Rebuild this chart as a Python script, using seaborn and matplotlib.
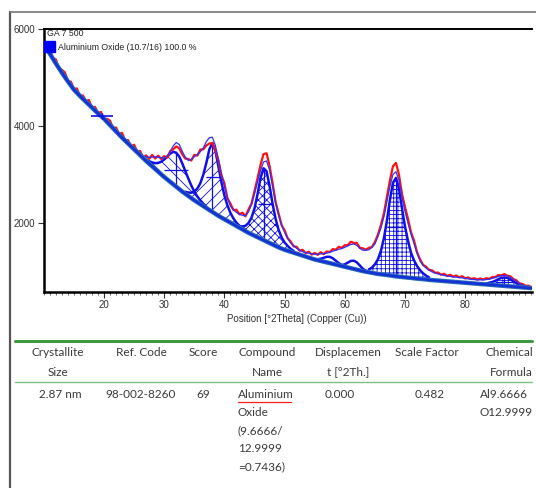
import numpy as np
import matplotlib
matplotlib.use("Agg")
import matplotlib.pyplot as plt
import seaborn as sns
from matplotlib.lines import Line2D
from matplotlib.patches import Rectangle
from matplotlib.ticker import MultipleLocator

# 2Theta grid of the scan (0.5 deg steps, 10 .. 91)
two_theta = np.linspace(10.0, 91.0, 163)

background = np.array([
    5700, 5590, 5490, 5390, 5290, 5195, 5100, 5010, 4920, 4835,
    4750, 4685, 4620, 4560, 4500, 4440, 4380, 4320, 4260, 4205,
    4150, 4085, 4020, 3955, 3890, 3825, 3760, 3700, 3640, 3580,
    3520, 3460, 3400, 3340, 3280, 3225, 3170, 3115, 3060, 3005,
    2950, 2900, 2850, 2800, 2750, 2700, 2650, 2605, 2560, 2515,
    2470, 2430, 2390, 2350, 2310, 2270, 2230, 2190, 2150, 2115,
    2080, 2045, 2010, 1975, 1940, 1905, 1870, 1835, 1800, 1770,
    1740, 1710, 1680, 1650, 1620, 1590, 1560, 1530, 1500, 1475,
    1450, 1430, 1410, 1390, 1370, 1350, 1330, 1310, 1290, 1270,
    1250, 1235, 1220, 1205, 1190, 1175, 1160, 1145, 1130, 1115,
    1100, 1085, 1070, 1055, 1040, 1025, 1010, 998, 985, 972,
    960, 952, 945, 938, 930, 920, 910, 902, 895, 888,
    880, 875, 870, 862, 855, 850, 845, 838, 830, 825,
    820, 815, 810, 805, 800, 795, 790, 785, 780, 775,
    770, 765, 760, 755, 750, 745, 740, 735, 730, 725,
    720, 715, 710, 705, 700, 695, 690, 685, 680, 675,
    670, 665, 660])

observed = np.array([
    5770, 5590, 5590, 5400, 5375, 5185, 5160, 5105, 4925, 4915,
    4765, 4775, 4620, 4630, 4520, 4535, 4375, 4395, 4270, 4290,
    4140, 4150, 4110, 3955, 3970, 3835, 3860, 3705, 3710, 3575,
    3615, 3480, 3485, 3350, 3395, 3325, 3405, 3330, 3390, 3320,
    3380, 3350, 3485, 3520, 3580, 3540, 3420, 3330, 3320, 3290,
    3405, 3390, 3515, 3520, 3600, 3640, 3650, 3500, 3290, 2990,
    2820, 2510, 2400, 2270, 2275, 2180, 2215, 2140, 2280, 2400,
    2660, 2920, 3200, 3420, 3440, 3180, 2830, 2440, 2200, 1960,
    1850, 1690, 1620, 1520, 1510, 1430, 1450, 1380, 1410, 1350,
    1385, 1345, 1400, 1360, 1415, 1400, 1465, 1450, 1510, 1490,
    1545, 1545, 1615, 1590, 1590, 1490, 1480, 1450, 1490, 1505,
    1610, 1760, 1960, 2200, 2540, 2880, 3170, 3240, 3000, 2600,
    2330, 2090, 1810, 1640, 1400, 1255, 1140, 1100, 1035, 1025,
    975, 980, 935, 955, 910, 935, 895, 920, 880, 905,
    860, 880, 845, 865, 835, 860, 835, 865, 850, 890,
    885, 930, 920, 950, 915, 905, 845, 820, 760, 745,
    710, 710, 680])

calculated = np.array([
    5740, 5630, 5530, 5430, 5330, 5235, 5140, 5050, 4960, 4875,
    4790, 4725, 4660, 4600, 4540, 4480, 4420, 4360, 4300, 4245,
    4190, 4125, 4060, 3995, 3930, 3865, 3800, 3740, 3680, 3620,
    3565, 3505, 3445, 3390, 3360, 3355, 3360, 3365, 3360, 3345,
    3340, 3380, 3470, 3590, 3660, 3620, 3480, 3360, 3290, 3310,
    3370, 3410, 3470, 3550, 3680, 3760, 3770, 3600, 3320, 3020,
    2760, 2530, 2350, 2270, 2220, 2180, 2160, 2150, 2230, 2380,
    2600, 2850, 3080, 3260, 3280, 3100, 2760, 2420, 2160, 1960,
    1810, 1690, 1590, 1530, 1480, 1440, 1410, 1390, 1380, 1365,
    1355, 1360, 1365, 1370, 1380, 1400, 1420, 1440, 1460, 1475,
    1500, 1530, 1560, 1570, 1540, 1480, 1440, 1440, 1450, 1500,
    1570, 1720, 1900, 2130, 2450, 2760, 3000, 3060, 2880, 2520,
    2250, 2000, 1770, 1580, 1380, 1220, 1130, 1075, 1030, 995,
    970, 950, 935, 920, 910, 900, 890, 885, 880, 870,
    860, 850, 840, 835, 830, 830, 830, 835, 845, 860,
    880, 900, 915, 920, 910, 880, 840, 795, 755, 725,
    705, 690, 675])

# fitted peak components: first 2Theta and heights above background
comp_a_start = 27.0
comp_a = [30, 50, 80, 120, 180, 260, 360, 470, 580, 670, 700, 670, 580, 470,
          360, 260, 180, 120, 80, 50, 30]
comp_b_start = 33.5
comp_b = [40, 70, 110, 180, 280, 430, 650, 930, 1250, 1420, 1300, 1020, 730,
          490, 320, 200, 120, 70, 40]
comp_c_start = 42.5
comp_c = [30, 60, 110, 200, 340, 560, 880, 1250, 1480, 1450, 1180, 840, 560,
          360, 230, 150, 100, 60, 35]
comp_f_start = 55.5
comp_f = [20, 45, 80, 115, 130, 115, 80, 45, 20]
comp_g_start = 59.5
comp_g = [20, 50, 100, 150, 170, 150, 100, 50, 20]
comp_d_start = 64.0
comp_d = [60, 110, 190, 300, 480, 750, 1120, 1560, 1920, 2030, 1820, 1420,
          1050, 760, 520, 370, 260, 180, 120, 80, 50]
comp_e_start = 83.5
comp_e = [20, 40, 60, 90, 130, 160, 175, 170, 145, 110, 75, 45, 25, 15]

marker_pos = [19.7]
marker_int = [4200]

legend_title = 'GA 7 500'
legend_phase = 'Aluminium Oxide (10.7/16) 100.0 %'
x_label = 'Position [°2Theta] (Copper (Cu))'

header_top = ['Crystallite', 'Ref. Code', 'Score', 'Compound', 'Displacemen', 'Scale Factor', 'Chemical']
header_bottom = ['Size', '', '', 'Name', 't [°2Th.]', '', 'Formula']
row_values = ['2.87 nm', '98-002-8260', '69',
              'Aluminium\nOxide\n(9.6666/\n12.9999\n=0.7436)',
              '0.000', '0.482', 'Al9.6666\nO12.9999']

sns.set_style('white')
plt.rcParams['font.family'] = ['Liberation Sans Narrow', 'Liberation Sans', 'DejaVu Sans']
plt.rcParams['hatch.linewidth'] = 0.6
plt.rcParams['hatch.color'] = '#1a1aee'

W, H = 536, 488
fig = plt.figure(figsize=(W / 100, H / 100), dpi=100)
ax = fig.add_axes([43.5 / W, 1 - 291.5 / H, 488.5 / W, 262.5 / H])

blue = '#1010e6'
components = [(comp_a_start, comp_a, '\\\\\\'), (comp_b_start, comp_b, '///'),
              (comp_c_start, comp_c, 'xxxx'), (comp_f_start, comp_f, None),
              (comp_g_start, comp_g, None), (comp_d_start, comp_d, '++++'),
              (comp_e_start, comp_e, '+++')]

for start, heights, hatch in components:
    i0 = int(np.searchsorted(two_theta, start - 1e-6))
    xs = two_theta[i0:i0 + len(heights)]
    base = background[i0:i0 + len(heights)]
    top = base + np.array(heights)
    if hatch:
        ax.fill_between(xs, base, top, facecolor='none', edgecolor=blue,
                        hatch=hatch, linewidth=0)
        k = int(np.argmax(top - base))
        ax.vlines(xs[k], base[k], top[k], color=blue, lw=0.9)
        half = (top - base) >= (top[k] - base[k]) / 2
        ax.hlines((base[k] + top[k]) / 2, xs[half].min(), xs[half].max(), color=blue, lw=0.9)
    sns.lineplot(x=xs, y=top, ax=ax, color=blue, lw=1.8, sort=False, estimator=None)

sns.lineplot(x=two_theta, y=observed, ax=ax, color='#ff1010', lw=1.6, sort=False, estimator=None)
sns.lineplot(x=two_theta, y=calculated, ax=ax, color='#3030ff', lw=0.9, sort=False, estimator=None)
sns.lineplot(x=two_theta, y=background, ax=ax, color='#2a70b0', lw=3.2, sort=False, estimator=None)
sns.lineplot(x=two_theta, y=background, ax=ax, color='#1530d8', lw=1.8, sort=False, estimator=None)

ax.plot(marker_pos, marker_int, marker='_', ms=16, mew=1.2, color=blue, ls='none')
ax.plot(marker_pos, marker_int, marker='|', ms=5, mew=1.0, color=blue, ls='none')

ax.set_xlim(9.95, 91.1)
ax.set_ylim(590, 6000)
ax.set_xticks([20, 30, 40, 50, 60, 70, 80])
ax.set_yticks([2000, 4000, 6000])
ax.xaxis.set_minor_locator(MultipleLocator(1))
ax.tick_params(axis='both', which='major', direction='out', length=4, width=0.8,
               labelsize=7, labelcolor='#333333', color='#333333', pad=2)
ax.tick_params(axis='x', which='minor', direction='out', length=2, width=0.6,
               color='#555555', bottom=True)
ax.tick_params(axis='x', which='both', bottom=True)
ax.tick_params(axis='y', which='both', left=True)
ax.set_xlabel(x_label, fontsize=7, color='#333333')
ax.xaxis.set_label_coords((297 - 43.5) / 488.5, -0.085)
ax.set_ylabel('')
for side in ['left', 'bottom']:
    ax.spines[side].set_linewidth(1.8)
    ax.spines[side].set_color('black')
ax.spines['top'].set_linewidth(1.4)
ax.spines['top'].set_color('black')
ax.spines['right'].set_visible(False)

ax.add_patch(Rectangle((0.002, 0.912), 0.021, 0.044, transform=ax.transAxes,
                       color='#0000ff', clip_on=False, zorder=5))
ax.text(0.007, 0.981, legend_title, transform=ax.transAxes, fontsize=6.3,
        color='#222222', va='center', ha='left')
ax.text(0.029, 0.93, legend_phase, transform=ax.transAxes, fontsize=6.3,
        color='#222222', va='center', ha='left')

# outer frame of the screenshot
fig.add_artist(Line2D([10 / W, 10 / W], [0, 1 - 12 / H], color='#555555', lw=1.6))
fig.add_artist(Line2D([10 / W, 1], [1 - 12 / H, 1 - 12 / H], color='#777777', lw=1.2))

# table
green = '#3f9a3f'
fig.add_artist(Line2D([15 / W, 532 / W], [1 - 341 / H] * 2, color=green, lw=2.2))
fig.add_artist(Line2D([15 / W, 532 / W], [1 - 382 / H] * 2, color='#7fbf7f', lw=1.0))

tfont = dict(family=['Lato', 'DejaVu Sans'], fontsize=8.5, color='#3a3a3a')
col_x = [58, 141, 203, 267, 348, 427, 533]
col_ha = ['center', 'center', 'center', 'center', 'center', 'center', 'right']
for x, ha, t1, t2 in zip(col_x, col_ha, header_top, header_bottom):
    fig.text(x / W, 1 - 353 / H, t1, ha=ha, va='center', **tfont)
    if t2:
        fig.text(x / W, 1 - 372 / H, t2, ha=ha, va='center', **tfont)

row_x = [60, 141, 203, 238, 340, 430, 480]
row_ha = ['center', 'center', 'center', 'left', 'center', 'center', 'left']
for x, ha, val in zip(row_x, row_ha, row_values):
    fig.text(x / W, 1 - 389 / H, val, ha=ha, va='top', multialignment=ha,
             linespacing=1.78, **tfont)

# spell-check underline under the compound name
fig.add_artist(Line2D([238 / W, 291 / W], [1 - 402 / H] * 2, color='#ff2020', lw=0.9))

fig.savefig('out.png', dpi=100)
